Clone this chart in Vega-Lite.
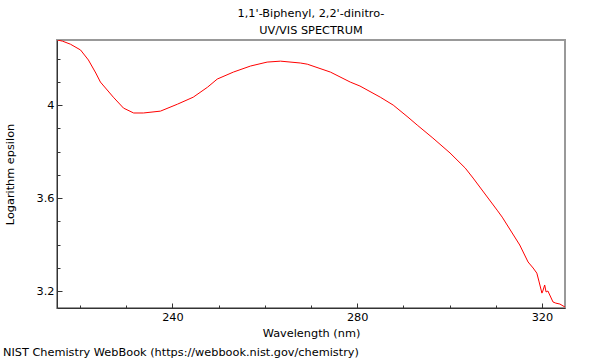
{
  "$schema": "https://vega.github.io/schema/vega-lite/v6.json",
  "autosize": {"type": "pad"},
  "padding": {"left": 3, "top": 6, "right": 35, "bottom": 3},
  "background": "white",
  "bounds": "flush",
  "title": {
    "text": "NIST Chemistry WebBook (https://webbook.nist.gov/chemistry)",
    "orient": "bottom",
    "anchor": "start",
    "frame": "bounds",
    "font": "DejaVu Sans",
    "fontSize": 11.3,
    "fontWeight": "normal",
    "color": "#000000",
    "offset": 7
  },
  "config": {
    "font": "DejaVu Sans",
    "view": {"stroke": "#999999", "strokeWidth": 2},
    "axis": {
      "labelFont": "DejaVu Sans",
      "labelFontSize": 11.3,
      "labelColor": "#000000",
      "titleFont": "DejaVu Sans",
      "titleFontSize": 11.3,
      "titleFontWeight": "normal",
      "titleColor": "#000000",
      "domainColor": "#333333",
      "tickColor": "#333333",
      "grid": false
    }
  },
  "vconcat": [
    {
      "width": 508,
      "height": 268,
      "title": {
        "text": ["1,1'-Biphenyl, 2,2'-dinitro-", "UV/VIS SPECTRUM"],
        "font": "DejaVu Sans",
        "fontSize": 11.3,
        "fontWeight": "normal",
        "color": "#000000",
        "anchor": "middle",
        "lineHeight": 17,
        "offset": 4
      },
      "data": {
        "values": [
          {"wl": 215.1, "loge": 4.280},
          {"wl": 216.2, "loge": 4.275},
          {"wl": 217.9, "loge": 4.262},
          {"wl": 220.1, "loge": 4.237},
          {"wl": 221.8, "loge": 4.194},
          {"wl": 223.4, "loge": 4.138},
          {"wl": 224.4, "loge": 4.099},
          {"wl": 227.2, "loge": 4.034},
          {"wl": 229.4, "loge": 3.987},
          {"wl": 231.6, "loge": 3.966},
          {"wl": 233.7, "loge": 3.966},
          {"wl": 237.4, "loge": 3.974},
          {"wl": 241.1, "loge": 4.004},
          {"wl": 244.5, "loge": 4.034},
          {"wl": 247.6, "loge": 4.077},
          {"wl": 249.7, "loge": 4.112},
          {"wl": 253.2, "loge": 4.142},
          {"wl": 256.9, "loge": 4.168},
          {"wl": 260.5, "loge": 4.185},
          {"wl": 263.4, "loge": 4.189},
          {"wl": 267.7, "loge": 4.181},
          {"wl": 269.2, "loge": 4.176},
          {"wl": 274.2, "loge": 4.142},
          {"wl": 278.5, "loge": 4.099},
          {"wl": 280.6, "loge": 4.082},
          {"wl": 285.0, "loge": 4.034},
          {"wl": 287.8, "loge": 4.000},
          {"wl": 291.0, "loge": 3.948},
          {"wl": 293.0, "loge": 3.914},
          {"wl": 296.4, "loge": 3.858},
          {"wl": 300.1, "loge": 3.794},
          {"wl": 303.4, "loge": 3.729},
          {"wl": 305.1, "loge": 3.686},
          {"wl": 310.3, "loge": 3.548},
          {"wl": 311.4, "loge": 3.518},
          {"wl": 315.2, "loge": 3.398},
          {"wl": 317.0, "loge": 3.325},
          {"wl": 318.1, "loge": 3.299},
          {"wl": 318.9, "loge": 3.277},
          {"wl": 319.4, "loge": 3.239},
          {"wl": 320.0, "loge": 3.191},
          {"wl": 320.2, "loge": 3.200},
          {"wl": 320.6, "loge": 3.226},
          {"wl": 320.9, "loge": 3.196},
          {"wl": 321.3, "loge": 3.200},
          {"wl": 322.4, "loge": 3.153},
          {"wl": 323.0, "loge": 3.148},
          {"wl": 323.9, "loge": 3.144},
          {"wl": 325.0, "loge": 3.131}
        ]
      },
      "layer": [
        {
          "mark": {"type": "line", "color": "#ff0000", "strokeWidth": 1, "clip": true},
          "encoding": {
            "x": {
              "field": "wl",
              "type": "quantitative",
              "scale": {"domain": [215, 325], "nice": false, "zero": false},
              "axis": {
                "title": "Wavelength (nm)",
                "values": [220, 230, 240, 250, 260, 270, 280, 290, 300, 310, 320],
                "labelExpr": "datum.value % 40 === 0 ? datum.label : ''",
                "tickSize": {"condition": {"test": "datum.value % 40 === 0", "value": -5}, "value": -3},
                "labelPadding": 8,
                "titlePadding": 5,
                "domainColor": "#333333"
              }
            },
            "y": {
              "field": "loge",
              "type": "quantitative",
              "scale": {"domain": [3.127, 4.28], "nice": false, "zero": false},
              "axis": {
                "title": "Logarithm epsilon",
                "values": [3.2, 3.3, 3.4, 3.5, 3.6, 3.7, 3.8, 3.9, 4.0, 4.1, 4.2],
                "labelExpr": "round(datum.value * 10) % 4 === 0 ? format(datum.value, '~g') : ''",
                "tickSize": {"condition": {"test": "round(datum.value * 10) % 4 === 0", "value": -5}, "value": -3},
                "labelPadding": 8,
                "titlePadding": 21
              }
            }
          }
        }
      ]
    }
  ]
}
